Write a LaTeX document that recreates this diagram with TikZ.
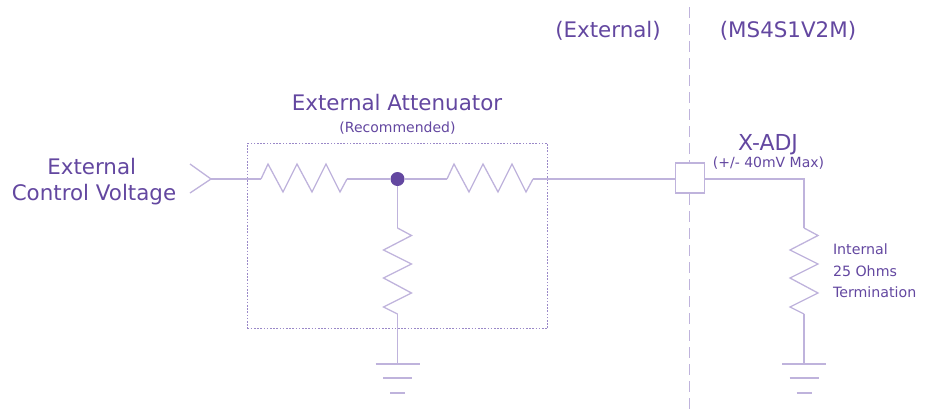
\documentclass[tikz,border=0pt]{standalone}
\usepackage{fontspec}
\setmainfont{DejaVu Sans}
\definecolor{ink}{HTML}{6347A0}
\definecolor{wire}{HTML}{BFB3DC}
\definecolor{boxline}{HTML}{9A88C8}
\newcommand{\fs}[1]{\fontsize{#1}{#1}\selectfont}
\tikzset{
  x=1pt,y=-1pt,
  wireline/.style={draw=wire,line width=1.3pt,line join=miter},
  txt/.style={text=ink,inner sep=0pt,outer sep=0pt,anchor=center},
  big/.style={txt,font=\fs{21.4}},
  mid/.style={txt,font=\fs{22}},
  small/.style={txt,font=\fs{14}},
  tiny/.style={txt,font=\fs{14.2},anchor=west},
  hres/.pic={\draw[wireline] (0,0) -- (7,-15) -- (22,13) -- (36,-15) -- (51,13) -- (65,-15) -- (79,13) -- (86,0);},
  vres/.pic={\draw[wireline] (0,0) -- (14,7.5) -- (-14,22) -- (14,36) -- (-14,50) -- (14,65) -- (-14,79) -- (0,86);},
  gnd/.pic={\draw[wireline] (-22,0) -- (22,0) (-14.5,14) -- (14.5,14) (-7.5,29) -- (7.5,29);}
}
\begin{document}
\begin{tikzpicture}
\useasboundingbox (0,0) rectangle (929,413);
% divider
\coordinate (divtop) at (689.7,7);
\coordinate (divbot) at (689.7,413);
\draw[draw=wire,line width=1.3pt,dash pattern=on 11pt off 6pt] (divtop) -- (divbot);
% attenuator box
\node[draw=boxline,line width=1pt,dash pattern=on 1.6pt off 1.6pt,minimum width=300pt,minimum height=185.5pt,inner sep=0pt,anchor=north west] (att) at (247,142.7) {};
% key points
\coordinate (tip) at (211,179);
\coordinate (pa) at (190,164);
\coordinate (pb) at (190,193);
\coordinate (r1a) at (261,179);
\coordinate (r1b) at (347,179);
\node[circle,fill=ink,inner sep=0pt,minimum size=14pt] (dot) at (397.5,179) {};
\coordinate (r2a) at (447,179);
\coordinate (r2b) at (533,179);
\node[draw=wire,fill=white,line width=1.3pt,minimum width=29pt,minimum height=30pt,inner sep=0pt] (term) at (689.7,178) {};
\coordinate (corner) at (804,179);
\coordinate (r3a) at (397.5,228);
\coordinate (r3b) at (397.5,314);
\coordinate (g1) at (397.5,364);
\coordinate (r4a) at (804,228);
\coordinate (r4b) at (804,314);
\coordinate (g2) at (804,364);
% wires
\draw[wireline] (pa) -- (tip) -- (pb);
\draw[wireline] (tip) -- (r1a);
\draw[wireline] (r1b) -- (dot);
\draw[wireline] (dot) -- (r2a);
\draw[wireline] (r2b) -- (term.west |- r2b);
\draw[wireline] (term.east |- corner) -- (corner) -- (r4a);
\draw[wireline] (dot) -- (r3a);
\draw[wireline] (r3b) -- (g1);
\draw[wireline] (r4b) -- (g2);
\pic at (r1a) {hres};
\pic at (r2a) {hres};
\pic at (r3a) {vres};
\pic at (r4a) {vres};
\pic at (g1) {gnd};
\pic at (g2) {gnd};
% labels
\node[big] (l1) at (91.7,167) {External};
\node[big] (l2) at (94,194.5) {Control Voltage};
\node[big] (l3) at (397,103) {External Attenuator};
\node[small] (l4) at (397.5,128) {(Recommended)};
\node[big] (l5) at (608,31) {(External)};
\node[big] (l6) at (788,31) {(MS4S1V2M)};
\node[mid] (l7) at (768,145) {X-ADJ};
\node[small] (l8) at (768.5,163) {(+/- 40mV Max)};
\node[tiny] (l9) at (833,249) {Internal};
\node[tiny] (l10) at (833,271) {25 Ohms};
\node[tiny] (l11) at (833,292) {Termination};
\end{tikzpicture}
\end{document}
